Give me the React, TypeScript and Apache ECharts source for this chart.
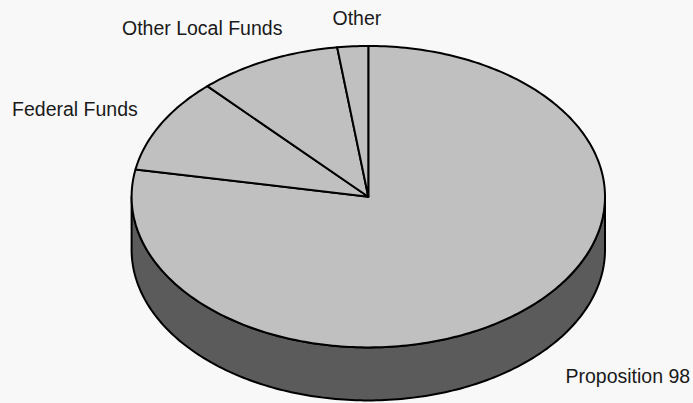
import React, { useEffect, useRef } from "react";
import * as echarts from "echarts";

// ---- data ----
const categories: string[] = ["Proposition 98", "Federal Funds", "Other Local Funds", "Other"];
const values: number[] = [77.9, 10.2, 9.8, 2.1];

// ---- layout (not data) ----
const CX = 368.3;
const CY = 196.7;
const RX = 236.7;
const RY = 150.7;
const DEPTH = 53;
const LABEL_FACTOR = 1.15;
const labelNudge: [number, number][] = [
  [23, -6.5],
  [8, -4.5],
  [30, -11.5],
  [6.5, -5.7],
];

const total = values.reduce((a, b) => a + b, 0);
const starts: number[] = [];
{
  let acc = 0;
  for (const v of values) {
    starts.push(acc);
    acc += v;
  }
}
const angleOf = (cum: number) => -Math.PI / 2 + (cum / total) * Math.PI * 2;

function arcPoints(a0: number, a1: number, dy: number): number[][] {
  const pts: number[][] = [];
  const n = Math.max(2, Math.ceil(((a1 - a0) * 180) / Math.PI));
  for (let k = 0; k <= n; k++) {
    const t = a0 + ((a1 - a0) * k) / n;
    pts.push([CX + RX * Math.cos(t), CY + dy + RY * Math.sin(t)]);
  }
  return pts;
}

export default function App() {
  const ref = useRef<HTMLDivElement>(null);
  useEffect(() => {
    if (!ref.current) return;
    const chart = echarts.init(ref.current, null, { renderer: "svg" });
    const data = values.map((v, i) => ({ name: categories[i], value: v }));
    chart.setOption({
      animation: false,
      backgroundColor: "#f8f8f8",
      series: [
        {
          type: "custom",
          name: "side",
          coordinateSystem: "none",
          silent: true,
          data,
          renderItem: (params: any) => {
            const i = params.dataIndex;
            const a0 = angleOf(starts[i]);
            const a1 = angleOf(starts[i] + values[i]);
            const s = Math.max(a0, 0);
            const e = Math.min(a1, Math.PI);
            if (s >= e) return { type: "group", children: [] };
            const top = arcPoints(s, e, 0);
            const bottom = arcPoints(s, e, DEPTH).reverse();
            return {
              type: "polygon",
              shape: { points: top.concat(bottom) },
              style: { fill: "#5b5b5b", stroke: "#000", lineWidth: 2, lineJoin: "round" },
            };
          },
        },
        {
          type: "custom",
          name: "top",
          coordinateSystem: "none",
          silent: true,
          data,
          renderItem: (params: any) => {
            const i = params.dataIndex;
            const a0 = angleOf(starts[i]);
            const a1 = angleOf(starts[i] + values[i]);
            const pts = [[CX, CY]].concat(arcPoints(a0, a1, 0));
            const m = (a0 + a1) / 2;
            const c = Math.cos(m);
            const sn = Math.sin(m);
            let lx = CX + RX * LABEL_FACTOR * c;
            let ly = CY + RY * LABEL_FACTOR * sn + (sn > 0 ? DEPTH : 0);
            lx += labelNudge[i][0];
            ly += labelNudge[i][1];
            const align = c > 0.3 ? "left" : c < -0.3 ? "right" : "center";
            return {
              type: "group",
              children: [
                {
                  type: "polygon",
                  shape: { points: pts },
                  style: { fill: "#c0c0c0", stroke: "#000", lineWidth: 2, lineJoin: "round" },
                },
                {
                  type: "text",
                  x: lx,
                  y: ly,
                  style: {
                    text: categories[i],
                    fill: "#1a1a1a",
                    fontSize: 19.5,
                    fontFamily: "'Liberation Sans', Arial, sans-serif",
                    align,
                    verticalAlign: "middle",
                  },
                },
              ],
            };
          },
        },
      ],
    });
    return () => chart.dispose();
  }, []);
  return (
    <div
      ref={ref}
      style={{ position: "absolute", left: 0, top: 0, width: 693, height: 403 }}
    />
  );
}
